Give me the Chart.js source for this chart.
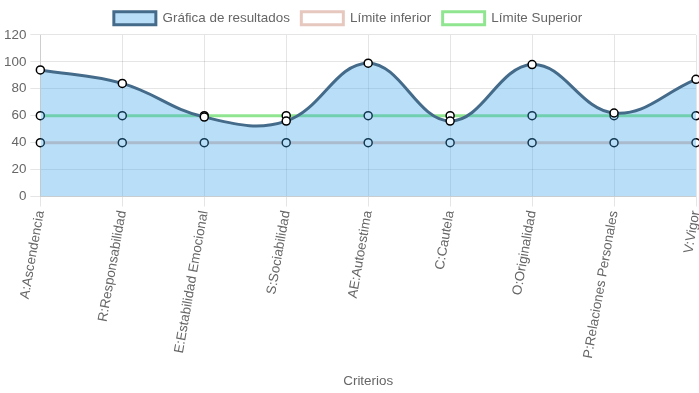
<!DOCTYPE html>
<html>
<head>
<meta charset="utf-8">
<script src="https://cdn.jsdelivr.net/npm/chart.js@4/dist/chart.umd.min.js"></script>
<style>
  html, body { margin: 0; padding: 0; background: #fff; }
  #wrap { width: 699px; height: 393px; }
</style>
</head>
<body>
<div id="wrap"><canvas id="resultChart"></canvas></div>
<script>
// data
let criterios = [
  "A:Ascendencia",
  "R:Responsabilidad",
  "E:Estabilidad Emocional",
  "S:Sociabilidad",
  "AE:Autoestima",
  "C:Cautela",
  "O:Originalidad",
  "P:Relaciones Personales",
  "V:Vigor",
];
let resultados = [94, 84, 59, 56, 99, 56, 98, 62, 87];
let limiteInferior = [40, 40, 40, 40, 40, 40, 40, 40, 40];
let limiteSuperior = [60, 60, 60, 60, 60, 60, 60, 60, 60];

Chart.defaults.font.family = "'Liberation Sans', Arial, sans-serif";
Chart.defaults.font.size = 13.4;
Chart.defaults.color = "#666";

const ctx = document.getElementById("resultChart");
new Chart(ctx, {
  type: "line",
  data: {
    labels: criterios,
    datasets: [
      {
        label: "Gráfica de resultados",
        data: resultados,
        fill: "origin",
        backgroundColor: "rgba(54, 162, 235, 0.35)",
        borderColor: "#456b8a",
        borderWidth: 3,
        tension: 0.4,
        pointRadius: 4,
        pointBackgroundColor: "#fff",
        pointBorderColor: "#000",
        pointBorderWidth: 1.5,
      },
      {
        label: "Límite inferior",
        data: limiteInferior,
        fill: false,
        backgroundColor: "#fff",
        borderColor: "rgb(230, 200, 190)",
        borderWidth: 3,
        tension: 0.4,
        pointRadius: 4,
        pointBackgroundColor: "#fff",
        pointBorderColor: "#000",
        pointBorderWidth: 1.5,
      },
      {
        label: "Límite Superior",
        data: limiteSuperior,
        fill: false,
        backgroundColor: "#fff",
        borderColor: "rgb(144, 230, 144)",
        borderWidth: 3,
        tension: 0.4,
        pointRadius: 4,
        pointBackgroundColor: "#fff",
        pointBorderColor: "#000",
        pointBorderWidth: 1.5,
      },
    ],
  },
  options: {
    responsive: true,
    maintainAspectRatio: false,
    animation: false,
    layout: {
      autoPadding: false,
      padding: { left: 0, right: 3, bottom: 0 },
    },
    plugins: {
      legend: {
        labels: {
          boxWidth: 42,
          boxHeight: 13,
          padding: 11.5,
        },
      },
      tooltip: { enabled: false },
    },
    scales: {
      x: {
        grid: {
          color: "rgba(0,0,0,0.1)",
          tickLength: 10,
        },
        ticks: {
          minRotation: 80,
          maxRotation: 80,
          autoSkip: false,
        },
        title: {
          display: true,
          text: "Criterios",
          padding: { top: 14, bottom: 4 },
        },
        // the last rotated label needs no room on the right
        afterFit: (scale) => {
          scale.paddingRight = 0;
        },
      },
      y: {
        min: 0,
        max: 120,
        grid: {
          color: "rgba(0,0,0,0.1)",
          tickLength: 10,
        },
        ticks: {
          stepSize: 20,
          padding: 4,
        },
      },
    },
  },
});
</script>
</body>
</html>
